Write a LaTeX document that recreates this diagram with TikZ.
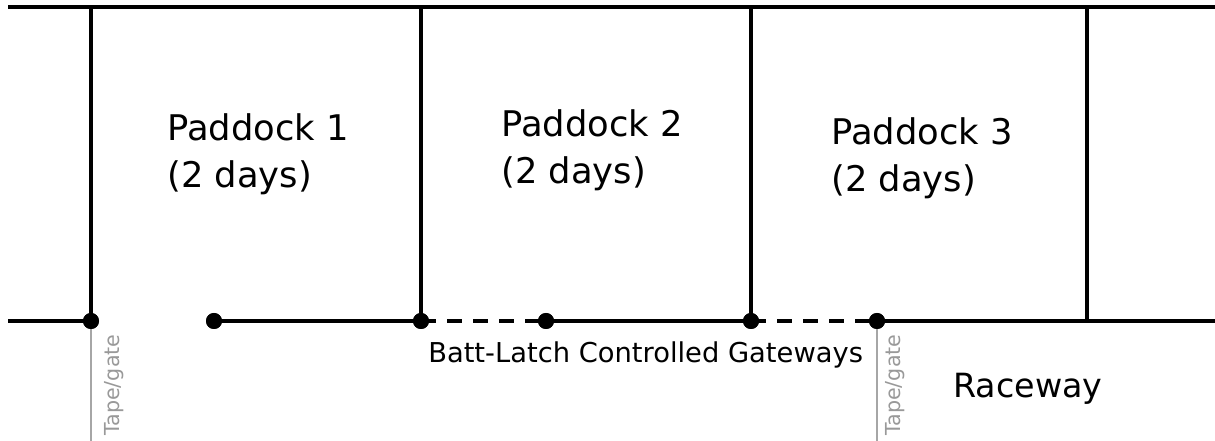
\documentclass[tikz,border=0pt]{standalone}
\usepackage{fontspec}
\setmainfont{DejaVu Sans}
\usepackage{tikz}
\tikzstyle{gatepost}=[circle, fill=black, inner sep=0pt, minimum size=12pt]
\tikzstyle{fence}=[line width=2.6pt]
\tikzstyle{gateway}=[line width=2.6pt, dash pattern=on 11.5pt off 8pt]
\tikzstyle{tapeline}=[line width=1.6pt, black!35]
\tikzstyle{tapetext}=[rotate=90, anchor=base west, inner sep=0pt, text=black!40, font=\fontsize{15.5}{18}\selectfont]
\tikzstyle{fieldname}=[anchor=base west, inner sep=0pt, font=\fontsize{26.5}{30}\selectfont]

\begin{document}
\begin{tikzpicture}[x=0.75pt, y=-0.75pt]
                \useasboundingbox (0,0) rectangle (1215,441);
                % top fence and dividers
                \coordinate (tl) at (8, 7);
                \coordinate (tr) at (1215, 7);
                \coordinate (t1) at (91, 7);
                \coordinate (t2) at (421, 7);
                \coordinate (t3) at (751, 7);
                \coordinate (t4) at (1087, 7);
                \coordinate (bl) at (8, 321);
                \coordinate (br) at (1215, 321);
                \coordinate (b4) at (1087, 321);
                \coordinate (g1) at (91, 441);
                \coordinate (g2) at (877, 441);
                \node[gatepost] (d1) at (91, 321) {};
                \node[gatepost] (d2) at (214, 321) {};
                \node[gatepost] (d3) at (421, 321) {};
                \node[gatepost] (d4) at (546, 321) {};
                \node[gatepost] (d5) at (751, 321) {};
                \node[gatepost] (d6) at (877, 321) {};
                \draw[tapeline] (d1.center)--(g1) (d6.center)--(g2);
                \draw[fence] (tl)--(tr);
                \draw[fence] (t1)--(d1.center) (t2)--(d3.center) (t3)--(d5.center) (t4)--(b4);
                \draw[fence] (bl)--(d1.center) (d2.center)--(d3.center) (d4.center)--(d5.center) (d6.center)--(br);
                \draw[gateway] (d3.center)--(d4.center) (d5.center)--(d6.center);
                \node[gatepost] at (d1) {};
                \node[gatepost] at (d2) {};
                \node[gatepost] at (d3) {};
                \node[gatepost] at (d4) {};
                \node[gatepost] at (d5) {};
                \node[gatepost] at (d6) {};
                % labels
                \node[fieldname] (p1) at (167, 141) {Paddock 1};
                \node[fieldname] (p1d) at (167, 188) {(2 days)};
                \node[fieldname] (p2) at (501, 137) {Paddock 2};
                \node[fieldname] (p2d) at (501, 184) {(2 days)};
                \node[fieldname] (p3) at (831, 145) {Paddock 3};
                \node[fieldname] (p3d) at (831, 192) {(2 days)};
                \node[fieldname, font=\fontsize{20.5}{24}\selectfont] (batt) at (428, 363) {Batt-Latch Controlled Gateways};
                \node[fieldname, font=\fontsize{25}{30}\selectfont] (race) at (953, 398) {Raceway};
                \node[tapetext] (tg1) at (119, 436) {Tape/gate};
                \node[tapetext] (tg2) at (900, 436) {Tape/gate};
            \end{tikzpicture}
\end{document}
